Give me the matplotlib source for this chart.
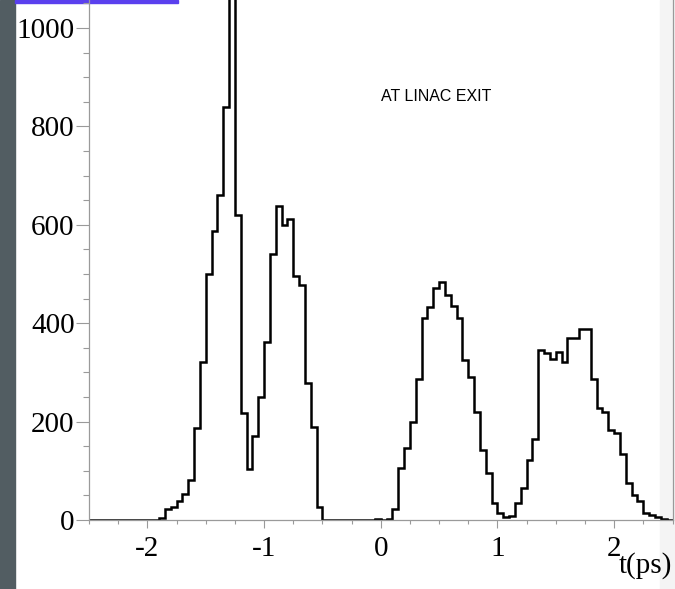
import numpy as np
import matplotlib
matplotlib.use("Agg")
import matplotlib.pyplot as plt
from matplotlib.patches import Rectangle
from matplotlib.ticker import MultipleLocator

# time histogram of the bunch train, 0.05 ps bins from -2.5 to 2.5 ps
T_MIN = -2.5
T_MAX = 2.5
N_BINS = 100
counts = [
    0, 0, 0, 0, 0, 0, 0, 0, 0, 0,
    0, 0, 4, 22, 27, 39, 52, 81, 188, 322,
    500, 588, 661, 839, 1150, 620, 218, 103, 171, 250,
    361, 541, 639, 600, 612, 496, 477, 278, 190, 27,
    0, 0, 0, 0, 0, 0, 0, 0, 1, 2,
    1, 3, 22, 105, 146, 200, 287, 411, 432, 471,
    484, 458, 436, 411, 326, 290, 219, 142, 95, 34,
    14, 7, 9, 35, 65, 121, 164, 346, 339, 328,
    342, 322, 370, 370, 388, 388, 286, 228, 220, 183,
    176, 134, 76, 51, 39, 14, 10, 7, 3, 1,
]
label_text = "AT LINAC EXIT"
x_label = "t(ps)"

edges = np.linspace(T_MIN, T_MAX, N_BINS + 1)

plt.rcParams['axes.unicode_minus'] = False
W, H = 675, 589
fig = plt.figure(figsize=(W/100, H/100), dpi=100)
fig.patch.set_facecolor('white')

# slide background bits around the plot
fig.patches.append(Rectangle((0, 0), 15/W, 1, transform=fig.transFigure,
                             color='#525d62', zorder=-2))
fig.patches.append(Rectangle((15/W, 1-2.5/H), 163/W, 2.5/H, transform=fig.transFigure,
                             color='#5a40ee', zorder=-2))
fig.patches.append(Rectangle((660/W, 0), 15/W, 1, transform=fig.transFigure,
                             color='#f4f4f4', zorder=-2))

ax = fig.add_axes([89/W, 69/H, (672.5-89)/W, 1 - 69/H])
ax.set_facecolor('none')
ax.stairs(counts, edges, color='black', lw=1.8)

ax.set_xlim(T_MIN, T_MAX)
ax.set_ylim(0, 1057)
ax.spines['top'].set_visible(False)
for s in ('left', 'bottom', 'right'):
    ax.spines[s].set_color('#9a9a9a')
    ax.spines[s].set_linewidth(0.9)

ax.xaxis.set_major_locator(MultipleLocator(1))
ax.xaxis.set_minor_locator(MultipleLocator(0.25))
ax.yaxis.set_major_locator(MultipleLocator(200))
ax.yaxis.set_minor_locator(MultipleLocator(50))
ax.tick_params(axis='x', which='major', length=5.8, width=0.8, color='#9a9a9a', pad=6)
ax.tick_params(axis='x', which='minor', length=2.9, width=0.8, color='#9a9a9a')
ax.tick_params(axis='y', which='major', length=9.4, width=0.8, color='#9a9a9a', pad=1)
ax.tick_params(axis='y', which='minor', length=4.3, width=0.8, color='#9a9a9a')
for lab in ax.get_xticklabels() + ax.get_yticklabels():
    lab.set_fontfamily('Liberation Serif')
    lab.set_fontsize(21)

ax.text(0.0, 860, label_text, fontsize=11.5, family='Liberation Sans',
        ha='left', va='center')
fig.text(672/W, 16/H, x_label, fontsize=21, family='Liberation Serif',
         ha='right', va='baseline')

fig.savefig('out.png', dpi=100)
